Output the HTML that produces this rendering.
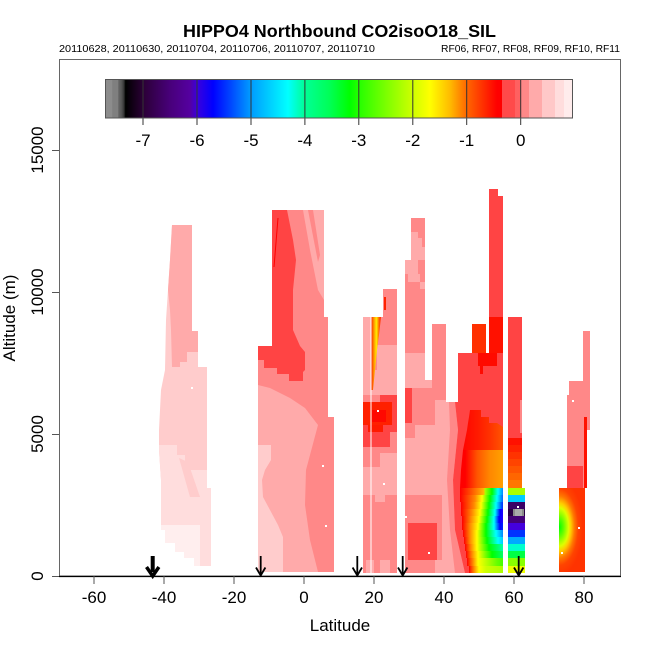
<!DOCTYPE html>
<html>
<head>
<meta charset="utf-8">
<style>
html,body{margin:0;padding:0;background:#fff;}
svg{display:block;}
</style>
</head>
<body>
<svg xmlns="http://www.w3.org/2000/svg" width="650" height="650" viewBox="0 0 650 650" font-family="'Liberation Sans', Arial, Helvetica, sans-serif">
<defs>
  <linearGradient id="cb" gradientUnits="userSpaceOnUse" x1="105" y1="0" x2="502" y2="0">
    <stop offset="0" stop-color="#8c8c8c"/>
    <stop offset=".0176" stop-color="#8c8c8c"/>
    <stop offset=".0189" stop-color="#7f7f7f"/>
    <stop offset=".0327" stop-color="#7f7f7f"/>
    <stop offset=".034" stop-color="#666"/>
    <stop offset=".0416" stop-color="#555"/>
    <stop offset=".0479" stop-color="#333"/>
    <stop offset=".0516" stop-color="#000"/>
    <stop offset=".0957" stop-color="#2b0036"/>
    <stop offset=".1637" stop-color="#48007a"/>
    <stop offset=".2141" stop-color="#5500a0"/>
    <stop offset=".2317" stop-color="#3a00dd"/>
    <stop offset=".272" stop-color="#0000ff"/>
    <stop offset=".3149" stop-color="#0044ff"/>
    <stop offset=".3652" stop-color="#0099ff"/>
    <stop offset=".461" stop-color="#00ffff"/>
    <stop offset=".5013" stop-color="#00ff99"/>
    <stop offset=".5668" stop-color="#00ff55"/>
    <stop offset=".6171" stop-color="#00ff00"/>
    <stop offset=".6373" stop-color="#22ff00"/>
    <stop offset=".7179" stop-color="#88ff00"/>
    <stop offset=".7733" stop-color="#ccff00"/>
    <stop offset=".8186" stop-color="#ffff00"/>
    <stop offset=".869" stop-color="#ffbb00"/>
    <stop offset=".9118" stop-color="#ff6600"/>
    <stop offset=".9874" stop-color="#ff0000"/>
    <stop offset="1" stop-color="#ff0000"/>
  </linearGradient>

  <linearGradient id="gU1" gradientUnits="userSpaceOnUse" x1="460" y1="0" x2="503" y2="0">
    <stop offset="0" stop-color="#ff0000"/><stop offset=".4" stop-color="#ff1a00"/>
    <stop offset=".7" stop-color="#ff3300"/><stop offset="1" stop-color="#ff5500"/>
  </linearGradient>
  <linearGradient id="gU2" gradientUnits="userSpaceOnUse" x1="460" y1="0" x2="503" y2="0">
    <stop offset="0" stop-color="#ff0000"/><stop offset=".12" stop-color="#ff0000"/>
    <stop offset=".4" stop-color="#ff5500"/><stop offset=".7" stop-color="#ff8800"/>
    <stop offset="1" stop-color="#ffa000"/>
  </linearGradient>

  <linearGradient id="s1" gradientUnits="userSpaceOnUse" x1="455" y1="0" x2="503" y2="0">
    <stop offset=".104" stop-color="#ff0000"/><stop offset=".3" stop-color="#ff4400"/><stop offset=".479" stop-color="#ff8800"/><stop offset=".604" stop-color="#ffbb00"/><stop offset=".625" stop-color="#aaff00"/><stop offset=".771" stop-color="#00ff00"/><stop offset=".896" stop-color="#00ffff"/><stop offset="1" stop-color="#0088ff"/>
  </linearGradient>
  <linearGradient id="s2" gradientUnits="userSpaceOnUse" x1="455" y1="0" x2="503" y2="0">
    <stop offset=".104" stop-color="#ff0000"/><stop offset=".26" stop-color="#ff4400"/><stop offset=".417" stop-color="#ff8800"/><stop offset=".5625" stop-color="#ffff00"/><stop offset=".729" stop-color="#00ff00"/><stop offset=".875" stop-color="#00ffff"/><stop offset="1" stop-color="#0066ff"/>
  </linearGradient>
  <linearGradient id="s3" gradientUnits="userSpaceOnUse" x1="455" y1="0" x2="503" y2="0">
    <stop offset=".125" stop-color="#ff0000"/><stop offset=".26" stop-color="#ff4400"/><stop offset=".396" stop-color="#ff8800"/><stop offset=".542" stop-color="#ffff00"/><stop offset=".708" stop-color="#00ff00"/><stop offset=".854" stop-color="#00ffff"/><stop offset=".979" stop-color="#0044ff"/><stop offset="1" stop-color="#0033ff"/>
  </linearGradient>
  <linearGradient id="s4" gradientUnits="userSpaceOnUse" x1="455" y1="0" x2="503" y2="0">
    <stop offset=".125" stop-color="#ff0000"/><stop offset=".24" stop-color="#ff4400"/><stop offset=".354" stop-color="#ff8800"/><stop offset=".521" stop-color="#ffff00"/><stop offset=".6875" stop-color="#00ff00"/><stop offset=".833" stop-color="#00ffff"/><stop offset=".9375" stop-color="#0000ff"/><stop offset="1" stop-color="#2200ff"/>
  </linearGradient>
  <linearGradient id="s5" gradientUnits="userSpaceOnUse" x1="455" y1="0" x2="503" y2="0">
    <stop offset=".146" stop-color="#ff0000"/><stop offset=".24" stop-color="#ff4400"/><stop offset=".333" stop-color="#ff8800"/><stop offset=".5" stop-color="#ffff00"/><stop offset=".667" stop-color="#00ff00"/><stop offset=".8125" stop-color="#00ffff"/><stop offset=".917" stop-color="#0000ff"/><stop offset="1" stop-color="#2200ff"/>
  </linearGradient>
  <linearGradient id="s6" gradientUnits="userSpaceOnUse" x1="455" y1="0" x2="503" y2="0">
    <stop offset=".146" stop-color="#ff0000"/><stop offset=".23" stop-color="#ff4400"/><stop offset=".3125" stop-color="#ff8800"/><stop offset=".479" stop-color="#ffff00"/><stop offset=".646" stop-color="#00ff00"/><stop offset=".8125" stop-color="#00ffff"/><stop offset=".9375" stop-color="#0000ff"/><stop offset="1" stop-color="#0022ff"/>
  </linearGradient>
  <linearGradient id="s7" gradientUnits="userSpaceOnUse" x1="455" y1="0" x2="503" y2="0">
    <stop offset=".167" stop-color="#ff0000"/><stop offset=".24" stop-color="#ff4400"/><stop offset=".3125" stop-color="#ff8800"/><stop offset=".458" stop-color="#ffff00"/><stop offset=".646" stop-color="#00ff00"/><stop offset=".854" stop-color="#00ffff"/><stop offset="1" stop-color="#0088ff"/>
  </linearGradient>
  <linearGradient id="s8" gradientUnits="userSpaceOnUse" x1="455" y1="0" x2="503" y2="0">
    <stop offset=".1875" stop-color="#ff0000"/><stop offset=".25" stop-color="#ff4400"/><stop offset=".3125" stop-color="#ff8800"/><stop offset=".458" stop-color="#ffff00"/><stop offset=".667" stop-color="#00ff00"/><stop offset=".896" stop-color="#00ffff"/><stop offset="1" stop-color="#00ccff"/>
  </linearGradient>
  <linearGradient id="s9" gradientUnits="userSpaceOnUse" x1="455" y1="0" x2="503" y2="0">
    <stop offset=".208" stop-color="#ff0000"/><stop offset=".27" stop-color="#ff4400"/><stop offset=".333" stop-color="#ff8800"/><stop offset=".458" stop-color="#ffff00"/><stop offset=".708" stop-color="#00ff00"/><stop offset="1" stop-color="#00ffaa"/>
  </linearGradient>
  <linearGradient id="s10" gradientUnits="userSpaceOnUse" x1="455" y1="0" x2="503" y2="0">
    <stop offset=".229" stop-color="#ff0000"/><stop offset=".29" stop-color="#ff4400"/><stop offset=".354" stop-color="#ff8800"/><stop offset=".479" stop-color="#ffff00"/><stop offset=".771" stop-color="#00ff00"/><stop offset="1" stop-color="#00ff66"/>
  </linearGradient>
  <linearGradient id="s11" gradientUnits="userSpaceOnUse" x1="455" y1="0" x2="503" y2="0">
    <stop offset=".25" stop-color="#ff0000"/><stop offset=".31" stop-color="#ff4400"/><stop offset=".375" stop-color="#ff8800"/><stop offset=".479" stop-color="#ffff00"/><stop offset=".875" stop-color="#66ff00"/><stop offset="1" stop-color="#44ff00"/>
  </linearGradient>
  <linearGradient id="s12" gradientUnits="userSpaceOnUse" x1="455" y1="0" x2="503" y2="0">
    <stop offset=".292" stop-color="#ff0000"/><stop offset=".34" stop-color="#ff4400"/><stop offset=".396" stop-color="#ff8800"/><stop offset=".5" stop-color="#ffff00"/><stop offset=".646" stop-color="#ccff00"/><stop offset="1" stop-color="#aaff00"/>
  </linearGradient>

  <radialGradient id="c6" gradientUnits="userSpaceOnUse" cx="0" cy="0" r="1" gradientTransform="translate(559,527) scale(24,48)">
    <stop offset="0" stop-color="#00ff00"/>
    <stop offset=".2" stop-color="#66ff00"/>
    <stop offset=".4" stop-color="#ddff00"/>
    <stop offset=".5" stop-color="#ffcc00"/>
    <stop offset=".65" stop-color="#ff7700"/>
    <stop offset=".8" stop-color="#ff4400"/>
    <stop offset="1" stop-color="#ff3300"/>
  </radialGradient>

  <linearGradient id="streak" gradientUnits="userSpaceOnUse" x1="371" y1="0" x2="381" y2="0">
    <stop offset="0" stop-color="#ff2200"/><stop offset=".35" stop-color="#ffaa00"/>
    <stop offset=".55" stop-color="#ffee00"/><stop offset=".8" stop-color="#ff6600"/>
    <stop offset="1" stop-color="#ff2200"/>
  </linearGradient>
</defs>

<rect x="0" y="0" width="650" height="650" fill="#ffffff"/>

<!-- Title -->
<text x="339.5" y="37" text-anchor="middle" font-size="17.5" font-weight="bold" textLength="313" lengthAdjust="spacingAndGlyphs" fill="#000">HIPPO4 Northbound CO2isoO18_SIL</text>
<text x="59" y="52" font-size="10" textLength="316" lengthAdjust="spacingAndGlyphs" fill="#000">20110628, 20110630, 20110704, 20110706, 20110707, 20110710</text>
<text x="620" y="52" font-size="10" text-anchor="end" textLength="179" lengthAdjust="spacingAndGlyphs" fill="#000">RF06, RF07, RF08, RF09, RF10, RF11</text>

<!-- ===== Column 1 ===== -->
<polygon fill="#ffcccc" points="172,225 192,225 192,331 198,331 198,367 207,367 207,488 211,488 211,566 194,566 194,558 184,558 184,552 175,552 175,543 165,543 165,530 161,530 161,480 159,450 159,430 161,390 165,370 166,320 168,290 170,260"/>
<polygon fill="#ffaaaa" points="172,225 192,225 192,331 198,331 198,352 187,352 187,362 180,362 180,367 172,367 171,330 170,310 168,290 170,260"/>
<polygon fill="#ffdddd" points="159,445 177,445 177,455 185,455 185,470 207,470 207,488 211,488 211,566 194,566 194,558 184,558 184,552 175,552 175,543 165,543 165,530 161,530 161,480 159,450"/>
<polygon fill="#ffcccc" points="179,458 188,462 200,497 190,497"/>
<polygon fill="#ffeeee" points="161,525 200,525 200,566 194,566 194,558 184,558 184,552 175,552 175,543 165,543 165,530 161,530"/>

<!-- ===== Column 2 ===== -->
<polygon fill="#ffaaaa" points="272,210 324,210 324,317 328,317 328,417 334,417 334,572 258,572 258,346 272,346"/>
<polygon fill="#ff8888" points="287,210 303,210 310,250 318,290 324,300 324,317 328,317 328,417 334,417 334,572 318,572 310,540 305,505 306,470 314,440 318,425 305,408 290,398 270,388 258,385 258,346 272,346 272,300 285,240"/>
<polygon fill="#ff8888" points="308,210 313,210 320,255 318,262"/>
<polygon fill="#ffcccc" points="258,445 271,445 271,460 265,470 262,480 263,497 270,510 278,525 283,537 283,572 258,572"/>
<polygon fill="#ff4444" points="272,210 287,210 293,240 296,260 293,290 293,330 300,346 305,352 305,370 303,372 303,381 289,381 289,374 277,374 277,368 264,368 264,360 258,360 258,346 272,346"/>
<line x1="278" y1="218" x2="274" y2="267" stroke="#ff0000" stroke-width="1"/>

<!-- ===== Column 3 ===== -->
<polygon fill="#ff8888" points="363,317 383,317 383,289 397,289 397,573 363,573"/>
<rect x="363" y="317" width="8" height="78" fill="#ffaaaa"/>
<rect x="377" y="345" width="20" height="50" fill="#ffaaaa"/>
<rect x="371" y="370" width="6" height="25" fill="#ffaaaa"/>
<polygon fill="url(#streak)" points="371,317 381,317 379,335 377,350 375,370 373,390 371,390"/>
<rect x="384" y="297" width="2" height="13" fill="#ff2200"/>
<rect x="380" y="395" width="17" height="7" fill="#ff4444"/>
<rect x="363" y="402" width="34" height="45" fill="#ff4444"/>
<rect x="390" y="432" width="7" height="15" fill="#ff8888"/>
<rect x="363" y="402" width="29" height="23" fill="#ff2000"/>
<rect x="368" y="425" width="15" height="7" fill="#ff1a00"/>
<rect x="372" y="410" width="14" height="12" fill="#ff0800"/>
<rect x="380" y="453" width="17" height="14" fill="#ffaaaa"/>
<rect x="363" y="467" width="34" height="28" fill="#ffaaaa"/>
<rect x="375" y="495" width="10" height="7" fill="#ffaaaa"/>
<rect x="366" y="560" width="8" height="13" fill="#ffaaaa"/>
<rect x="380" y="560" width="10" height="13" fill="#ffaaaa"/>
<rect x="370.5" y="317" width="1" height="256" fill="#ffffff"/>

<!-- ===== Column 4 ===== -->
<polygon fill="#ffaaaa" points="405,260 411,260 411,218 425,218 425,380 432,380 432,324 446,324 446,402 458,402 458,353 472,353 472,324 486,324 486,353 489,353 489,189 498,189 498,196 503,196 503,573 405,573"/>
<rect x="411" y="218" width="14" height="14" fill="#ff8888"/>
<rect x="418" y="232" width="7" height="6" fill="#ff8888"/>
<rect x="422" y="238" width="3" height="9" fill="#ff8888"/>
<rect x="418" y="260" width="7" height="14" fill="#ff8888"/>
<rect x="420" y="274" width="5" height="8" fill="#ff8888"/>
<rect x="405" y="274" width="3" height="8" fill="#ff8888"/>
<rect x="405" y="282" width="15" height="7" fill="#ff8888"/>
<rect x="405" y="289" width="20" height="64" fill="#ff8888"/>
<rect x="432" y="324" width="14" height="76" fill="#ff8888"/>
<rect x="412" y="388" width="23" height="37" fill="#ff8888"/>
<rect x="405" y="388" width="7" height="35" fill="#ff4444"/>
<rect x="405" y="423" width="10" height="15" fill="#ff8888"/>
<rect x="405" y="495" width="37" height="65" fill="#ff8888"/>
<rect x="408" y="523" width="29" height="37" fill="#ff4444"/>
<rect x="405" y="560" width="30" height="13" fill="#ff8888"/>
<polygon fill="#ff8888" points="449,402 450,430 447,480 450,530 455,573 465,573 455,530 453,480 458,430 455,402"/>
<polygon fill="#ff4444" points="455,402 458,402 458,353 472,353 472,324 486,324 486,353 489,353 489,189 498,189 498,196 503,196 503,573 465,573 455,530 453,480 458,430"/>
<rect x="472" y="324" width="14" height="29" fill="#ff3000"/>
<rect x="489" y="317" width="14" height="36" fill="#ff1100"/>
<rect x="478" y="353" width="19" height="13" fill="#ff0a00"/>
<rect x="480" y="366" width="3" height="8" fill="#ff0a00"/>
<!-- lens upper -->
<polygon fill="url(#gU1)" points="470,410 481,410 481,417 489,417 489,423 497,423 503,427 503,450 463,450 465,440 467,430 468,423 469,417"/>
<polygon fill="url(#gU2)" points="463,450 503,450 503,488 460,488 461,470"/>
<!-- lens lower strips -->
<rect x="460" y="488" width="43" height="7" fill="url(#s1)"/>
<rect x="460" y="495" width="43" height="7" fill="url(#s2)"/>
<rect x="461" y="502" width="42" height="7" fill="url(#s3)"/>
<rect x="461" y="509" width="42" height="7" fill="url(#s4)"/>
<rect x="462" y="516" width="41" height="7" fill="url(#s5)"/>
<rect x="462" y="523" width="41" height="7" fill="url(#s6)"/>
<rect x="463" y="530" width="40" height="7" fill="url(#s7)"/>
<rect x="464" y="537" width="39" height="7" fill="url(#s8)"/>
<rect x="465" y="544" width="38" height="7" fill="url(#s9)"/>
<rect x="466" y="551" width="37" height="7" fill="url(#s10)"/>
<rect x="467" y="558" width="36" height="8" fill="url(#s11)"/>
<rect x="469" y="566" width="34" height="7" fill="url(#s12)"/>

<!-- ===== Column 5 ===== -->
<rect x="508" y="317" width="14" height="121" fill="#ff4444"/>
<rect x="520" y="400" width="2" height="33" fill="#ff8888"/>
<rect x="508" y="438" width="14" height="7" fill="#ff1100"/>
<rect x="508" y="445" width="14" height="7" fill="#ff2200"/>
<rect x="508" y="452" width="14" height="7" fill="#ff3300"/>
<rect x="508" y="459" width="14" height="7" fill="#ff4400"/>
<rect x="508" y="466" width="14" height="7" fill="#ff5500"/>
<rect x="508" y="473" width="14" height="7" fill="#ff6600"/>
<rect x="508" y="480" width="14" height="8" fill="#ff7700"/>
<rect x="508" y="488" width="17" height="7" fill="#aaff00"/>
<rect x="508" y="495" width="17" height="7" fill="#00ccff"/>
<rect x="508" y="502" width="17" height="7" fill="#3a0066"/>
<rect x="508" y="509" width="17" height="7" fill="#2a0044"/>
<rect x="508" y="516" width="17" height="7" fill="#440077"/>
<rect x="508" y="523" width="17" height="7" fill="#4400dd"/>
<rect x="508" y="530" width="17" height="7" fill="#0033ff"/>
<rect x="508" y="537" width="17" height="7" fill="#00aaff"/>
<rect x="508" y="544" width="17" height="7" fill="#00ffcc"/>
<rect x="508" y="551" width="17" height="7" fill="#00ff44"/>
<rect x="508" y="558" width="17" height="8" fill="#88ff00"/>
<rect x="508" y="566" width="17" height="7" fill="#eeff00"/>
<rect x="513" y="509" width="11" height="7" fill="#8a8a8a"/>
<rect x="515" y="509" width="7" height="7" fill="#aaaaaa"/>

<!-- ===== Column 6 ===== -->
<polygon fill="#ff8888" points="583,331 590,331 590,430 587,430 587,488 567,488 567,395 569,395 569,381 583,381"/>
<rect x="567" y="466" width="16" height="22" fill="#ff4444"/>
<rect x="584" y="417" width="3" height="71" fill="#ff1100"/>
<rect x="559" y="488" width="26" height="84" fill="url(#c6)"/>

<!-- white specks -->
<g fill="#ffffff">
  <rect x="191" y="387" width="2" height="2"/>
  <rect x="322" y="465" width="2" height="2"/>
  <rect x="325" y="525" width="2" height="2"/>
  <rect x="377" y="410" width="2" height="2"/>
  <rect x="383" y="483" width="2" height="2"/>
  <rect x="428" y="552" width="2" height="2"/>
  <rect x="469" y="324" width="2" height="2"/>
  <rect x="405" y="516" width="2" height="2"/>
  <rect x="517" y="506" width="2" height="2"/>
  <rect x="572" y="400" width="2" height="2"/>
  <rect x="578" y="527" width="2" height="2"/>
  <rect x="561" y="552" width="2" height="2"/>
</g>

<!-- ===== Colorbar ===== -->
<rect x="105" y="79" width="397" height="39" fill="url(#cb)"/>
<rect x="502" y="79" width="13" height="39" fill="#ff4a4a"/>
<rect x="515" y="79" width="6" height="39" fill="#ff6060"/>
<rect x="521" y="79" width="8" height="39" fill="#ff8888"/>
<rect x="529" y="79" width="13" height="39" fill="#ffaaaa"/>
<rect x="542" y="79" width="13" height="39" fill="#ffc8c8"/>
<rect x="555" y="79" width="9" height="39" fill="#ffdddd"/>
<rect x="564" y="79" width="9" height="39" fill="#ffecec"/>
<g stroke="#333" stroke-width="1">
  <line x1="143" y1="79" x2="143" y2="125"/>
  <line x1="197" y1="79" x2="197" y2="125"/>
  <line x1="251" y1="79" x2="251" y2="125"/>
  <line x1="304.9" y1="79" x2="304.9" y2="125"/>
  <line x1="358.8" y1="79" x2="358.8" y2="125"/>
  <line x1="412.8" y1="79" x2="412.8" y2="125"/>
  <line x1="466.7" y1="79" x2="466.7" y2="125"/>
  <line x1="520.7" y1="79" x2="520.7" y2="125"/>
</g>
<rect x="105.5" y="79.5" width="467" height="38.5" fill="none" stroke="#555" stroke-width="1"/>
<g font-size="17" text-anchor="middle" fill="#000">
  <text x="143" y="146">-7</text>
  <text x="197" y="146">-6</text>
  <text x="251" y="146">-5</text>
  <text x="304.9" y="146">-4</text>
  <text x="358.8" y="146">-3</text>
  <text x="412.8" y="146">-2</text>
  <text x="466.7" y="146">-1</text>
  <text x="520.7" y="146">0</text>
</g>

<!-- ===== Axes / box ===== -->
<rect x="59.5" y="59.5" width="561" height="516.5" fill="none" stroke="#666" stroke-width="1"/>
<line x1="59" y1="576.5" x2="621" y2="576.5" stroke="#000" stroke-width="1.3"/>
<g stroke="#555" stroke-width="1">
  <line x1="94" y1="576" x2="94" y2="584"/>
  <line x1="164" y1="576" x2="164" y2="584"/>
  <line x1="234" y1="576" x2="234" y2="584"/>
  <line x1="304" y1="576" x2="304" y2="584"/>
  <line x1="374" y1="576" x2="374" y2="584"/>
  <line x1="444" y1="576" x2="444" y2="584"/>
  <line x1="514" y1="576" x2="514" y2="584"/>
  <line x1="584" y1="576" x2="584" y2="584"/>
  <line x1="52" y1="576.5" x2="59" y2="576.5"/>
  <line x1="52" y1="434.5" x2="59" y2="434.5"/>
  <line x1="52" y1="292.5" x2="59" y2="292.5"/>
  <line x1="52" y1="150.5" x2="59" y2="150.5"/>
</g>
<g font-size="17" text-anchor="middle" fill="#000">
  <text x="94" y="603">-60</text>
  <text x="164" y="603">-40</text>
  <text x="234" y="603">-20</text>
  <text x="304" y="603">0</text>
  <text x="374" y="603">20</text>
  <text x="444" y="603">40</text>
  <text x="514" y="603">60</text>
  <text x="584" y="603">80</text>
  <text x="43" y="576" transform="rotate(-90 43 576)">0</text>
  <text x="43" y="434" transform="rotate(-90 43 434)">5000</text>
  <text x="43" y="292" transform="rotate(-90 43 292)">10000</text>
  <text x="43" y="150" transform="rotate(-90 43 150)">15000</text>
  <text x="340" y="631">Latitude</text>
  <text x="15" y="318" transform="rotate(-90 15 318)">Altitude (m)</text>
</g>

<!-- ===== Arrows ===== -->
<g stroke="#000" fill="none" stroke-linecap="butt">
  <line x1="152.7" y1="556" x2="152.7" y2="572" stroke-width="4"/>
  <polyline points="146.5,567 152.7,576 158.9,567" stroke-width="3.5"/>
  <line x1="260.7" y1="556" x2="260.7" y2="575" stroke-width="1.8"/>
  <polyline points="256,567.5 260.7,575.5 265.4,567.5" stroke-width="1.8"/>
  <line x1="357.3" y1="556" x2="357.3" y2="575" stroke-width="1.8"/>
  <polyline points="352.6,567.5 357.3,575.5 362,567.5" stroke-width="1.8"/>
  <line x1="402.7" y1="556" x2="402.7" y2="575" stroke-width="1.8"/>
  <polyline points="398,567.5 402.7,575.5 407.4,567.5" stroke-width="1.8"/>
  <line x1="518.7" y1="556" x2="518.7" y2="575" stroke-width="1.8"/>
  <polyline points="514,567.5 518.7,575.5 523.4,567.5" stroke-width="1.8"/>
</g>
</svg>
</body>
</html>
